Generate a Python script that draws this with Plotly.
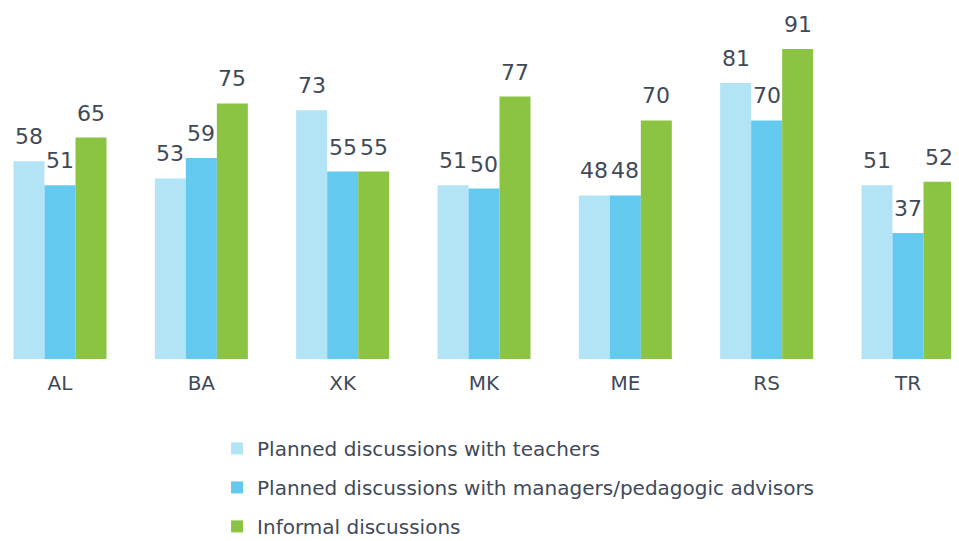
import plotly.graph_objects as go

categories = ["AL", "BA", "XK", "MK", "ME", "RS", "TR"]
teachers = [58, 53, 73, 51, 48, 81, 51]
managers = [51, 59, 55, 50, 48, 70, 37]
informal = [65, 75, 55, 77, 70, 91, 52]
series_names = [
    "Planned discussions with teachers",
    "Planned discussions with managers/pedagogic advisors",
    "Informal discussions",
]
colors = ["#B2E4F6", "#63C9EF", "#8BC443"]

font_family = "DejaVu Sans"
text_color = "#3F4A59"
bargap = 0.342
series = [teachers, managers, informal]
n_series = len(series)
bar_w = (1 - bargap) / n_series

fig = go.Figure()
annotations = []
for j, (name, vals) in enumerate(zip(series_names, series)):
    fig.add_trace(go.Bar(
        x=categories, y=vals, name=name,
        marker=dict(color=colors[j], line=dict(width=0)),
        legendgroup=str(j),
    ))
    for i, v in enumerate(vals):
        annotations.append(dict(
            x=i + (j - (n_series - 1) / 2) * bar_w, y=v, xref="x", yref="y",
            text=str(v), showarrow=False, yanchor="bottom", xanchor="center",
            yshift=10, font=dict(size=22, color=text_color, family=font_family),
        ))

fig.update_layout(
    width=959, height=541,
    margin=dict(l=0, r=0, t=0, b=190),
    barmode="group", bargap=bargap, bargroupgap=0,
    plot_bgcolor="white", paper_bgcolor="white",
    font=dict(family=font_family, color=text_color),
    annotations=annotations,
    xaxis=dict(range=[-0.368, 6.4175], showgrid=False, showline=False, zeroline=False,
               ticks="outside", ticklen=6, tickcolor="rgba(0,0,0,0)",
               tickfont=dict(size=20, color=text_color), automargin=False),
    yaxis=dict(range=[0, 103.0], visible=False, automargin=False),
    legend=dict(orientation="v", x=0.218, xanchor="left", xref="paper",
                y=0.222, yanchor="top", yref="container",
                font=dict(size=20, color=text_color), traceorder="grouped",
                tracegroupgap=10, itemwidth=30),
    showlegend=True,
)

fig.write_html("out.html")
